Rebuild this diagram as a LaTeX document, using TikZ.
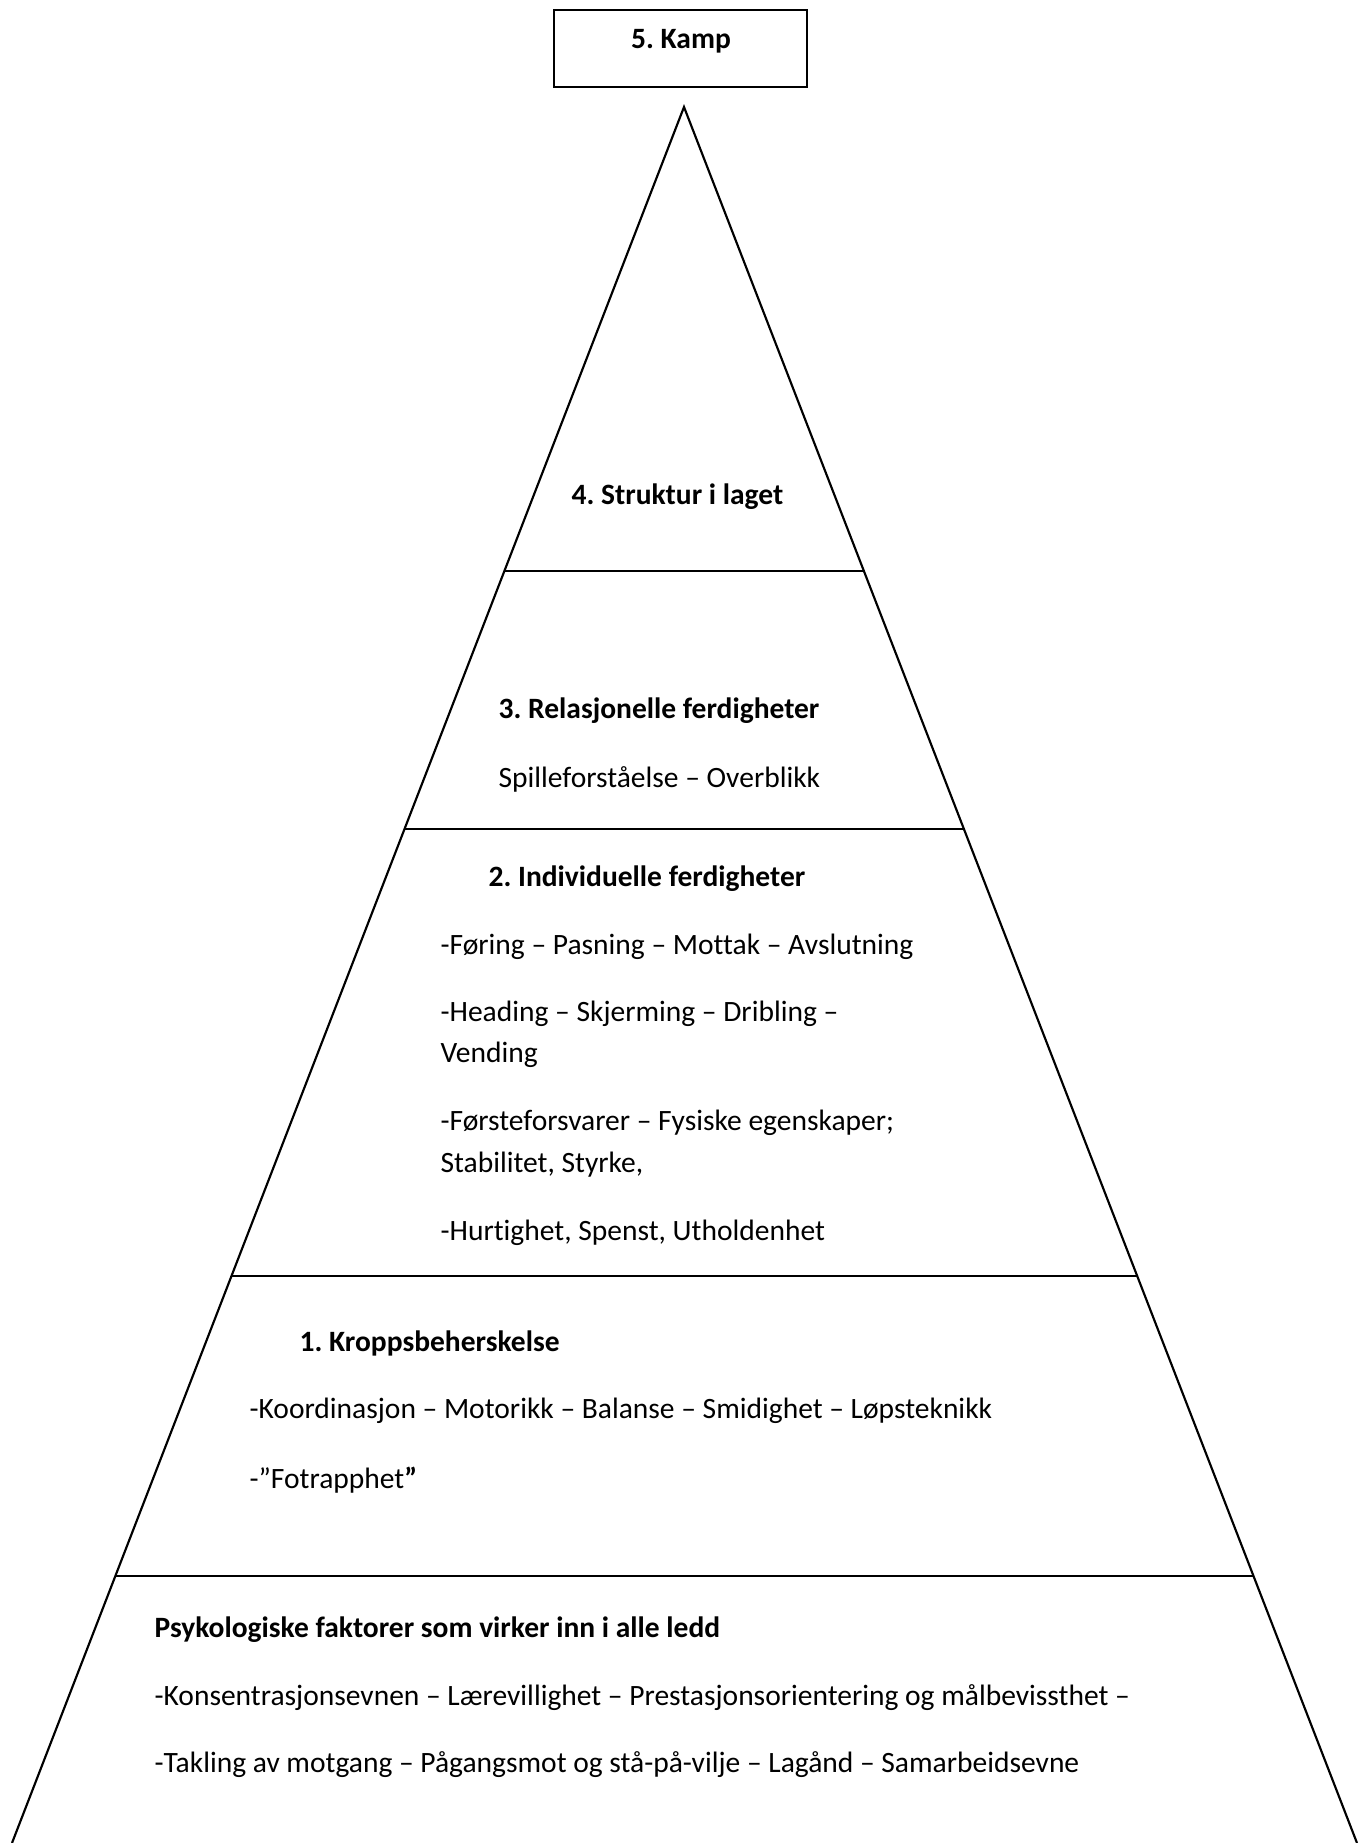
\documentclass[tikz,border=0pt]{standalone}
\usepackage{fontspec}
\setmainfont[Ligatures=NoCommon]{Carlito}
\usetikzlibrary{calc}
\frenchspacing

\begin{document}
\begin{tikzpicture}
  [x=0.327pt,y=-0.327pt,
   every node/.style={anchor=west,inner sep=0pt,font=\fontsize{9.65}{12}\selectfont},
   head/.style={font=\fontsize{9.65}{12}\selectfont\bfseries},
   level/.style={line width=0.7pt}]
  \useasboundingbox (0,0) rectangle (1367,1843);
  % the box on top
  \draw[line width=0.8pt] (554,10) rectangle (807,87);
  \node[head,anchor=center] (kamp) at (681,41) {5. Kamp};
  % pyramid
  \coordinate (top) at (684,107);
  \coordinate (bl) at (12,1843);
  \coordinate (br) at (1357,1843);
  \draw[level] (bl) -- (top) -- (br);
  \foreach \t in {0.2673,0.4159,0.6734,0.8462}
    \draw[level] ($(top)!\t!(bl)$) -- ($(top)!\t!(br)$);
  % 4
  \node[head] (struktur) at (571,497) {4. Struktur i laget};
  % 3
  \node[head] (rel) at (498,711) {3. Relasjonelle ferdigheter};
  \node (rela) at (498,779) {Spilleforståelse – Overblikk};
  % 2
  \node[head] (ind) at (488,879) {2. Individuelle ferdigheter};
  \node (inda) at (440,947) {-Føring – Pasning – Mottak – Avslutning};
  \node (indb) at (440,1014) {-Heading – Skjerming – Dribling –};
  \node (indc) at (440,1055) {Vending};
  \node (indd) at (440,1123) {-Førsteforsvarer – Fysiske egenskaper;};
  \node (inde) at (440,1165) {Stabilitet, Styrke,};
  \node (indf) at (440,1233) {-Hurtighet, Spenst, Utholdenhet};
  % 1
  \node[head] (kropp) at (299,1343) {1. Kroppsbeherskelse};
  \node (kroppa) at (249,1411) {-Koordinasjon – Motorikk – Balanse – Smidighet – Løpsteknikk};
  \node (kroppb) at (249,1480) {-”Fotrapphet\textbf{”}};
  % base
  \node[head] (psyk) at (154,1630) {Psykologiske faktorer som virker inn i alle ledd};
  \node (psyka) at (154,1698) {-Konsentrasjonsevnen – Lærevillighet – Prestasjonsorientering og målbevissthet –};
  \node (psykb) at (154,1765) {-Takling av motgang – Pågangsmot og stå-på-vilje – Lagånd – Samarbeidsevne};
\end{tikzpicture}
\end{document}
